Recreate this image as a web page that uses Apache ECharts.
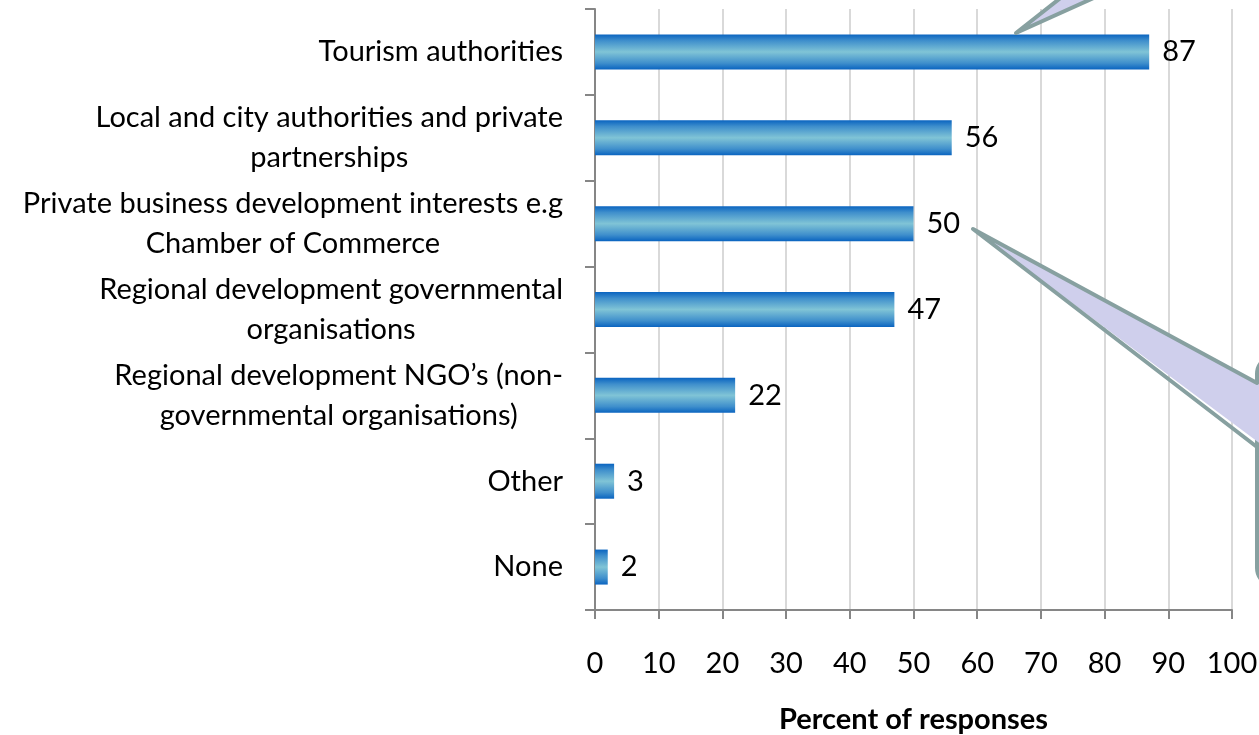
<!DOCTYPE html>
<html>
<head>
<meta charset="utf-8">
<script src="https://cdn.jsdelivr.net/npm/echarts@6/dist/echarts.min.js"></script>
<style>
  html, body { margin: 0; padding: 0; background: #ffffff; }
  #chart { width: 1259px; height: 735px; }
</style>
</head>
<body>
<div id="chart"></div>
<script>
// Organisations named as responsible, share of responses (%)
const categories = [
  'Tourism authorities',
  'Local and city authorities and private\npartnerships',
  'Private business development interests e.g\nChamber of Commerce',
  'Regional development governmental\norganisations',
  'Regional development NGO\u2019s (non-\ngovernmental organisations)',
  'Other',
  'None'
];
const percentValues = [87, 56, 50, 47, 22, 3, 2];
const xTicks = [0, 10, 20, 30, 40, 50, 60, 70, 80, 90, 100];
const xAxisTitle = 'Percent of responses';

const FONT = 'Lato, "Open Sans", sans-serif';
const TEXT_SIZE = 29;

const chart = echarts.init(document.getElementById('chart'), null, { renderer: 'canvas' });

// Each line of a wrapped category label is centred inside its block
function centredLines(value) {
  return value.split('\n').map(function (line) { return '{c|' + line + '}'; }).join('\n');
}

const barGradient = {
  type: 'linear', x: 0, y: 0, x2: 0, y2: 1,
  colorStops: [
    { offset: 0, color: '#0a64c0' },
    { offset: 0.18, color: '#3f8fcc' },
    { offset: 0.5, color: '#80c4d6' },
    { offset: 0.82, color: '#3f8fcc' },
    { offset: 1, color: '#0a64c0' }
  ]
};

const CALLOUT_FILL = '#cfcfec';
const CALLOUT_EDGE = '#87a0a0';

chart.setOption({
  animation: false,
  backgroundColor: '#ffffff',
  grid: { left: 595, right: 27, top: 9, bottom: 125, containLabel: false, outerBoundsMode: 'none' },
  xAxis: {
    type: 'value',
    min: xTicks[0],
    max: xTicks[xTicks.length - 1],
    interval: 10,
    name: xAxisTitle,
    nameLocation: 'middle',
    nameGap: 95,
    nameTextStyle: { fontFamily: FONT, fontSize: 29, fontWeight: 'bold', color: '#000000' },
    axisLine: { show: true, lineStyle: { color: '#868686', width: 2 } },
    axisTick: { show: true, length: 9, lineStyle: { color: '#868686', width: 2 } },
    axisLabel: { margin: 39, fontFamily: FONT, fontSize: TEXT_SIZE, color: '#000000' },
    splitLine: { show: true, lineStyle: { color: '#d9d9d9', width: 2 } }
  },
  yAxis: {
    type: 'category',
    inverse: true,
    data: categories,
    axisLine: { show: true, lineStyle: { color: '#868686', width: 2 } },
    axisTick: { show: true, length: 10, alignWithLabel: false, lineStyle: { color: '#868686', width: 2 } },
    axisLabel: {
      margin: 32,
      color: '#000000',
      fontFamily: FONT,
      fontSize: TEXT_SIZE,
      lineHeight: 40,
      formatter: centredLines,
      rich: { c: { align: 'center', fontFamily: FONT, fontSize: TEXT_SIZE, lineHeight: 40, color: '#000000' } }
    },
    splitLine: { show: false }
  },
  series: [{
    type: 'bar',
    data: percentValues,
    barWidth: 35,
    itemStyle: { color: barGradient },
    label: {
      show: true,
      position: 'right',
      distance: 13,
      fontFamily: FONT,
      fontSize: TEXT_SIZE,
      color: '#000000'
    }
  }],
  graphic: {
    elements: [
      // callout pointing at the top bar; its body sits above the plot
      {
        type: 'polygon', z: 100,
        shape: { points: [[1016, 33], [1063, -4], [1098, -4]] },
        style: { fill: CALLOUT_FILL, stroke: CALLOUT_EDGE, lineWidth: 4, lineJoin: 'round' }
      },
      // callout pointing at the 50% label; its body at the right edge
      {
        type: 'rect', z: 100,
        shape: { x: 1257, y: 356, width: 120, height: 230, r: 18 },
        style: { fill: CALLOUT_FILL, stroke: CALLOUT_EDGE, lineWidth: 4 }
      },
      {
        type: 'polygon', z: 101,
        shape: { points: [[973, 229], [1262, 385], [1262, 445]] },
        style: { fill: CALLOUT_FILL }
      },
      {
        type: 'polyline', z: 102,
        shape: { points: [[1257, 383], [973, 229], [1257, 447]] },
        style: { stroke: CALLOUT_EDGE, lineWidth: 4, lineJoin: 'round', lineCap: 'round', fill: null }
      }
    ]
  }
});
</script>
</body>
</html>
